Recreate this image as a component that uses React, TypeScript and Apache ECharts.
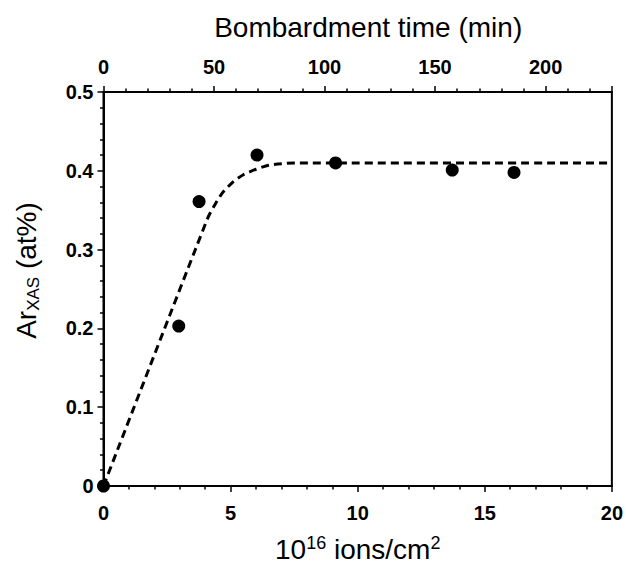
import React, { useEffect, useRef } from "react";
import * as echarts from "echarts";

// Measured points: fluence (10^16 ions/cm^2) vs Ar_XAS (at%)
const fluence = [0, 2.96, 3.76, 6.04, 9.13, 13.72, 16.15];
const arContent = [0, 0.203, 0.361, 0.42, 0.41, 0.401, 0.398];

// Dashed guide curve
const fitX = [0, 4.1, 4.4, 4.7, 5.1, 5.5, 6.0, 6.5, 7.0, 7.5, 20];
const fitY = [0, 0.34, 0.358, 0.373, 0.386, 0.395, 0.402, 0.407, 0.409, 0.41, 0.41];

// Axis ranges
const xRange = [0, 20];
const yRange = [0, 0.5];
const timeRange = [0, 230];

const FONT = "'Liberation Sans', Arial, Helvetica, sans-serif";

export default function App() {
  const ref = useRef<HTMLDivElement>(null);
  useEffect(() => {
    if (!ref.current) return;
    const chart = echarts.init(ref.current, null, { renderer: "svg" });
    const tickLabel = { color: "#000", fontSize: 20, fontWeight: "bold", fontFamily: FONT };
    const axisLine = { show: true, onZero: false, lineStyle: { color: "#000", width: 2 } };
    const axisTick = { show: true, inside: false, length: 6, lineStyle: { color: "#000", width: 1.5 } };
    const minorTick = { show: true, splitNumber: 5, length: 3.5, lineStyle: { color: "#000", width: 1.5 } };
    chart.setOption({
      animation: false,
      backgroundColor: "#fff",
      grid: {
        left: 103.5,
        right: 13,
        top: 92,
        bottom: 75.5,
        show: true,
        borderColor: "#000",
        borderWidth: 2,
        containLabel: false,
      },
      xAxis: [
        {
          type: "value",
          position: "bottom",
          min: xRange[0],
          max: xRange[1],
          interval: 5,
          axisLine,
          axisTick,
          minorTick,
          splitLine: { show: false },
          axisLabel: { ...tickLabel, margin: 17 },
          name: "{m|10}{p|16}{m| ions/cm}{p|2}",
          nameLocation: "middle",
          nameGap: 48,
          nameTextStyle: {
            rich: {
              m: { fontSize: 28, lineHeight: 30, color: "#000", fontFamily: FONT },
              p: { fontSize: 18, lineHeight: 11, verticalAlign: "top", color: "#000", fontFamily: FONT },
            },
          },
        },
        {
          type: "value",
          position: "top",
          min: timeRange[0],
          max: timeRange[1],
          interval: 50,
          axisLine,
          axisTick,
          minorTick,
          splitLine: { show: false },
          axisLabel: { ...tickLabel, margin: 15, showMaxLabel: false },
          name: "Bombardment time (min)",
          nameLocation: "middle",
          nameGap: 50,
          nameTextStyle: {
            fontSize: 28,
            lineHeight: 30,
            color: "#000",
            fontFamily: FONT,
            padding: [0, 0, 0, 21],
          },
        },
      ],
      yAxis: [
        {
          type: "value",
          min: yRange[0],
          max: yRange[1],
          interval: 0.1,
          axisLine,
          axisTick,
          minorTick,
          splitLine: { show: false },
          axisLabel: { ...tickLabel, margin: 10 },
          name: "{m|Ar}{s|XAS}{m| (at%)}",
          nameLocation: "middle",
          nameRotate: 90,
          nameGap: 62,
          nameTextStyle: {
            padding: [0, 0, 0, 37],
            rich: {
              m: { fontSize: 28, lineHeight: 30, color: "#000", fontFamily: FONT },
              s: { fontSize: 17, lineHeight: 13, verticalAlign: "bottom", color: "#000", fontFamily: FONT },
            },
          },
        },
      ],
      series: [
        {
          type: "line",
          data: fitX.map((x, i) => [x, fitY[i]]),
          showSymbol: false,
          symbol: "none",
          smooth: 0.2,
          lineStyle: { color: "#000", width: 3, type: [8, 5] },
          silent: true,
          z: 2,
        },
        {
          type: "scatter",
          data: fluence.map((x, i) => [x, arContent[i]]),
          symbol: "circle",
          symbolSize: 13,
          itemStyle: { color: "#000", opacity: 1 },
          z: 3,
        },
      ],
    });
    return () => chart.dispose();
  }, []);
  return (
    <div
      ref={ref}
      style={{ position: "fixed", left: 0, top: 0, width: 626, height: 568, background: "#fff" }}
    />
  );
}
